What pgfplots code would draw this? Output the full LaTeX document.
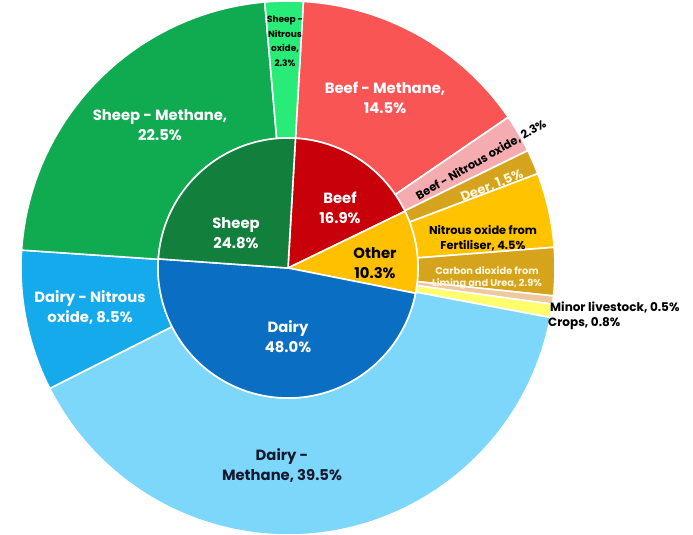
\documentclass[border=0pt]{standalone}
\usepackage{pgfplots}
\pgfplotsset{compat=1.18}
\usepackage{fontspec}
\setmainfont{Poppins}

\definecolor{sheepI}{RGB}{18,128,60}
\definecolor{sheepM}{RGB}{16,170,80}
\definecolor{sheepN}{RGB}{40,235,120}
\definecolor{beefI}{RGB}{200,0,10}
\definecolor{beefM}{RGB}{250,85,85}
\definecolor{beefN}{RGB}{245,172,176}
\definecolor{otherI}{RGB}{255,192,0}
\definecolor{deer}{RGB}{214,164,28}
\definecolor{fert}{RGB}{255,195,0}
\definecolor{cotwo}{RGB}{214,164,28}
\definecolor{minor}{RGB}{240,200,160}
\definecolor{crops}{RGB}{255,255,110}
\definecolor{dairyI}{RGB}{10,110,195}
\definecolor{dairyN}{RGB}{20,170,235}
\definecolor{dairyM}{RGB}{125,215,250}
\definecolor{navy}{RGB}{20,25,45}
\definecolor{cream}{RGB}{255,246,220}

% start angle offset (degrees, math convention): first slice begins 3.3 deg right of 12 o'clock
\newcommand{\off}{86.7}
% #1 cumulative start (%), #2 value (%), #3 inner radius, #4 outer radius, #5 colour, #6 degrees per percent
\newcommand{\seg}[6]{%
  \fill[#5, draw=white, line width=1.6pt, shift={(axis cs:0,0)}]
    ({\off-#6*(#1)}:#3pt) -- ({\off-#6*(#1)}:#4pt)
    arc[start angle={\off-#6*(#1)}, end angle={\off-#6*(#1+#2)}, radius=#4pt]
    -- ({\off-#6*(#1+#2)}:#3pt)
    arc[start angle={\off-#6*(#1+#2)}, end angle={\off-#6*(#1)}, radius=#3pt] -- cycle;}

\begin{document}
\begin{tikzpicture}
\begin{axis}[
  width=693pt, height=535pt, scale only axis,
  xmin=-288, xmax=405, ymin=-267, ymax=268,
  axis lines=none, ticks=none,
]
% outer ring: sub-categories (sum 99.8 %, so 360/99.8 deg per percent)
\seg{0}{14.5}{130}{267}{beefM}{3.6072}
\seg{14.5}{2.3}{130}{267}{beefN}{3.6072}
\seg{16.8}{1.5}{130}{267}{deer}{3.6072}
\seg{18.3}{4.5}{130}{267}{fert}{3.6072}
\seg{22.8}{2.9}{130}{267}{cotwo}{3.6072}
\seg{25.7}{0.5}{130}{267}{minor}{3.6072}
\seg{26.2}{0.8}{130}{267}{crops}{3.6072}
\seg{27.0}{39.5}{130}{267}{dairyM}{3.6072}
\seg{66.5}{8.5}{130}{267}{dairyN}{3.6072}
\seg{75.0}{22.5}{130}{267}{sheepM}{3.6072}
\seg{97.5}{2.3}{130}{267}{sheepN}{3.6072}
% inner ring: categories
\seg{0}{16.9}{0}{130}{beefI}{3.6}
\seg{16.9}{10.3}{0}{130}{otherI}{3.6}
\seg{27.2}{48.0}{0}{130}{dairyI}{3.6}
\seg{75.2}{24.8}{0}{130}{sheepI}{3.6}

% labels
\begin{scope}[every node/.style={font=\bfseries\fontsize{14.8}{20}\selectfont, align=center, inner sep=0pt}]
\node[white] at (axis cs:-128,143) {Sheep - Methane,\\22.5\%};
\node[white] at (axis cs:97,170) {Beef - Methane,\\14.5\%};
\node[white] at (axis cs:-198,-40) {Dairy - Nitrous\\oxide, 8.5\%};
\node[navy] at (axis cs:-6,-198) {Dairy -\\Methane, 39.5\%};
\node[white] at (axis cs:-52,35) {Sheep\\24.8\%};
\node[white] at (axis cs:52,60) {Beef\\16.9\%};
\node[black] at (axis cs:87,5) {Other\\10.3\%};
\node[white] at (axis cs:0,-69) {Dairy\\48.0\%};
\end{scope}
\begin{scope}[every node/.style={align=center, inner sep=0pt}]
\node[black, font=\bfseries\fontsize{9}{14.5}\selectfont] at (axis cs:-3,227) {Sheep -\\Nitrous\\oxide,\\2.3\%};
\node[black, font=\bfseries\fontsize{11.5}{12}\selectfont, rotate=30] at (axis cs:193,108) {Beef - Nitrous oxide, 2.3\%};
\node[cream, font=\bfseries\fontsize{13}{13}\selectfont, rotate=21.5] at (axis cs:204,82) {Deer, 1.5\%};
\node[black, font=\bfseries\fontsize{11.4}{15.5}\selectfont] at (axis cs:195,30) {Nitrous oxide from\\Fertiliser, 4.5\%};
\node[cream, font=\bfseries\fontsize{9.8}{12.5}\selectfont] at (axis cs:199,-10) {Carbon dioxide from\\Liming and Urea, 2.9\%};
\node[black, font=\bfseries\fontsize{12}{12}\selectfont, anchor=west] at (axis cs:262,-39) {Minor livestock, 0.5\%};
\node[black, font=\bfseries\fontsize{12}{12}\selectfont, anchor=west] at (axis cs:260,-56) {Crops, 0.8\%};
\end{scope}
\end{axis}
\pgfresetboundingbox
\path (current axis.south west) rectangle (current axis.north east);
\end{tikzpicture}
\end{document}
